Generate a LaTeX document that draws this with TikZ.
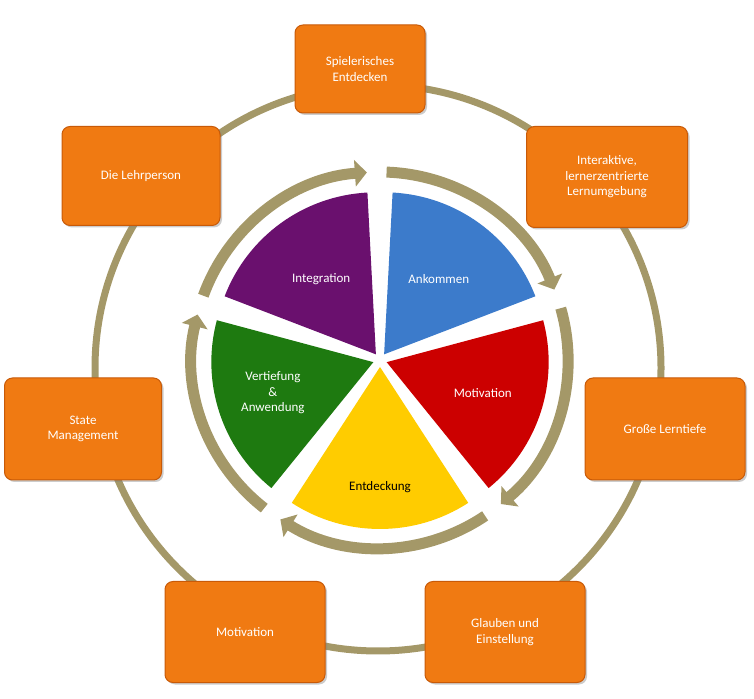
\documentclass[tikz,border=0pt]{standalone}
\usepackage{fontspec}
\setmainfont{Carlito}
\usetikzlibrary{arrows.meta,shadows,calc}
\definecolor{og}{HTML}{F07A12}
\definecolor{ogd}{HTML}{C85A08}
\definecolor{gold}{HTML}{A49868}
\definecolor{cA}{HTML}{3C7BCB}
\definecolor{cB}{HTML}{CC0000}
\definecolor{cC}{HTML}{FFCC00}
\definecolor{cD}{HTML}{1E7A10}
\definecolor{cE}{HTML}{6A106E}
\tikzset{
 box/.style={draw=ogd,line width=1pt,fill=og,rounded corners=8pt,text=white,align=center,font=\fontsize{13}{15.5}\selectfont,drop shadow={opacity=0.4,shadow xshift=2pt,shadow yshift=-2pt}},
 lbl/.style={align=center,font=\fontsize{13}{15.5}\selectfont,text=white},
 garrow/.style={gold,line width=11pt,-{Triangle[length=12pt,width=26pt]}},
}
\begin{document}
\begin{tikzpicture}[x=1pt,y=1pt]
\useasboundingbox (0,0) rectangle (754,698);
\coordinate (O) at (378,330);
\coordinate (P) at (380,338);
\draw[gold,line width=7pt] (O) circle[radius=283];
% pie
\foreach \a/\c in {90/cA,18/cB,-54/cC,-126/cD,162/cE}{
 \pgfmathsetmacro\m{\a-36}
 \fill[\c] ($(P)+(\m:7)$) -- ++(\a-3:162) arc[start angle=\a-3,end angle=\a-69,radius=162] -- cycle;
}
% gold arrows
\foreach \b in {90,18,-54,-126,162}{
 \draw[garrow] ($(P)+(\b+70:188)$) arc[start angle=\b+70,end angle=\b+4,radius=188];
}
\node[lbl] (l1) at ($(P)+(54:100)$) {Ankommen};
\node[lbl] (l2) at ($(P)+(-18:108)$) {Motivation};
\node[lbl,text=black] (l3) at ($(P)+(-90:127)$) {Entdeckung};
\node[lbl] (l4) at ($(P)+(-163:112)$) {Vertiefung\\\&\\Anwendung};
\node[lbl] (l5) at ($(P)+(126:100)$) {Integration};
% boxes
\node[box,minimum width=130pt,minimum height=88pt] (b1) at (360,629) {Spielerisches\\Entdecken};
\node[box,minimum width=161pt,minimum height=101pt] (b2) at (607,521) {Interaktive,\\lernerzentrierte\\Lernumgebung};
\node[box,minimum width=160pt,minimum height=102pt] (b3) at (665,269) {Große Lerntiefe};
\node[box,minimum width=160pt,minimum height=101pt] (b4) at (505,66) {Glauben und\\Einstellung};
\node[box,minimum width=160pt,minimum height=101pt] (b5) at (245,66) {Motivation};
\node[box,minimum width=157pt,minimum height=102pt] (b6) at (83,269) {State\\Management};
\node[box,minimum width=158pt,minimum height=99pt] (b7) at (141,522) {Die Lehrperson};
\end{tikzpicture}
\end{document}
